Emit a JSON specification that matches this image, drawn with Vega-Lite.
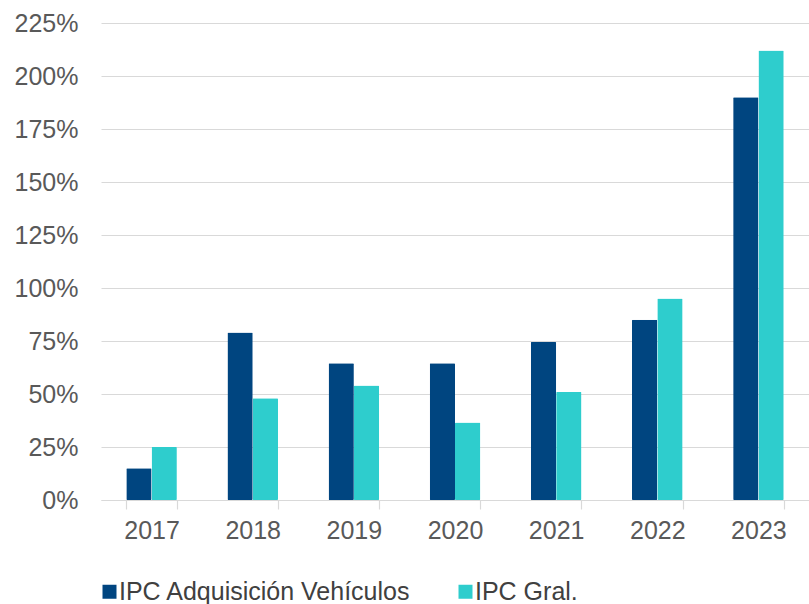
{
  "$schema": "https://vega.github.io/schema/vega-lite/v6.json",
  "width": 708,
  "height": 477,
  "autosize": {"type": "none"},
  "padding": {"left": 101, "top": 23, "right": 0, "bottom": 104},
  "background": "white",
  "data": {
    "values": [
      {"year": "2017", "serie": "IPC Adquisición Vehículos", "value": 0.15},
      {"year": "2017", "serie": "IPC Gral.", "value": 0.25},
      {"year": "2018", "serie": "IPC Adquisición Vehículos", "value": 0.79},
      {"year": "2018", "serie": "IPC Gral.", "value": 0.48},
      {"year": "2019", "serie": "IPC Adquisición Vehículos", "value": 0.645},
      {"year": "2019", "serie": "IPC Gral.", "value": 0.54},
      {"year": "2020", "serie": "IPC Adquisición Vehículos", "value": 0.645},
      {"year": "2020", "serie": "IPC Gral.", "value": 0.365},
      {"year": "2021", "serie": "IPC Adquisición Vehículos", "value": 0.745},
      {"year": "2021", "serie": "IPC Gral.", "value": 0.51},
      {"year": "2022", "serie": "IPC Adquisición Vehículos", "value": 0.85},
      {"year": "2022", "serie": "IPC Gral.", "value": 0.95},
      {"year": "2023", "serie": "IPC Adquisición Vehículos", "value": 1.90},
      {"year": "2023", "serie": "IPC Gral.", "value": 2.12}
    ]
  },
  "config": {
    "view": {"stroke": null},
    "font": "Liberation Sans"
  },
  "mark": {"type": "bar", "cornerRadius": 1},
  "encoding": {
    "x": {
      "field": "year",
      "type": "nominal",
      "title": null,
      "scale": {"paddingInner": 0.5, "paddingOuter": 0.25},
      "axis": {
        "labelAngle": 0,
        "labelFont": "Liberation Sans",
        "labelFontSize": 25,
        "labelColor": "#595959",
        "domainColor": "#D9D9D9",
        "domainWidth": 1.2,
        "tickColor": "#D9D9D9",
        "tickWidth": 1.2,
        "tickSize": 9,
        "tickBand": "extent",
        "labelPadding": 9
      }
    },
    "xOffset": {"field": "serie", "type": "nominal", "sort": ["IPC Adquisición Vehículos", "IPC Gral."]},
    "y": {
      "field": "value",
      "type": "quantitative",
      "title": null,
      "scale": {"domain": [0, 2.25]},
      "axis": {
        "values": [0, 0.25, 0.5, 0.75, 1, 1.25, 1.5, 1.75, 2, 2.25],
        "format": ".0%",
        "labelFont": "Liberation Sans",
        "labelFontSize": 25,
        "labelColor": "#595959",
        "domain": false,
        "ticks": false,
        "labelPadding": 23,
        "gridColor": "#D9D9D9",
        "gridWidth": 1.2
      }
    },
    "color": {
      "field": "serie",
      "type": "nominal",
      "sort": ["IPC Adquisición Vehículos", "IPC Gral."],
      "scale": {"domain": ["IPC Adquisición Vehículos", "IPC Gral."], "range": ["#004580", "#2ECDCD"]},
      "legend": {
        "title": null,
        "orient": "none",
        "legendX": -4,
        "legendY": 556,
        "padding": 0,
        "direction": "horizontal",
        "symbolType": "square",
        "symbolSize": 196,
        "symbolStrokeWidth": 0,
        "labelFont": "Liberation Sans",
        "labelFontSize": 25,
        "labelColor": "#404040",
        "labelOffset": -3,
        "labelLimit": 400,
        "columnPadding": 42
      }
    }
  }
}
